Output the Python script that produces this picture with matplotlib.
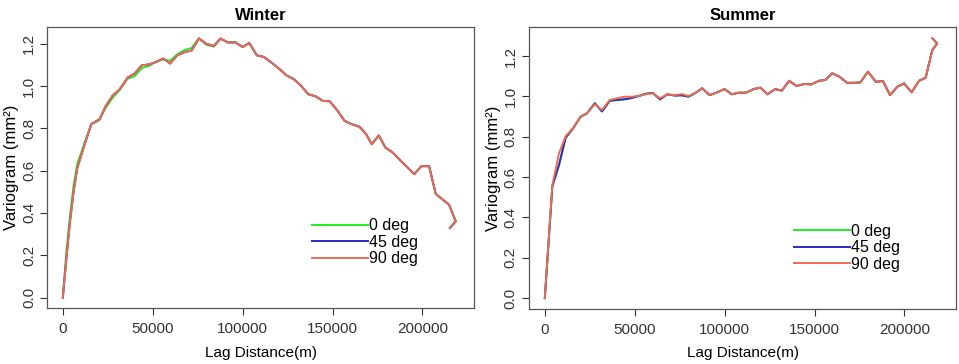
import numpy as np
import matplotlib
matplotlib.use("Agg")
import matplotlib.pyplot as plt

plt.rcParams['font.family'] = ['Liberation Sans', 'DejaVu Sans']

# winter variogram (lag in m, gamma in mm^2)
winter_lag = [0, 2000, 4000, 6000, 8000, 12000, 15850, 20400, 23750, 27800, 31500,
              36100, 39800, 44000, 48000, 51800, 55800, 59700, 63700, 67800, 71700,
              75700, 79700, 84000, 87700, 91700, 96000, 100000, 103700, 107900, 111900,
              116100, 120200, 124400, 128500, 132700, 136500, 140500, 144800, 148400,
              152600, 156700, 160800, 165000, 168700, 171800, 175700, 179400, 183400,
              187500, 191700, 195400, 199400, 203700, 207400, 211000, 214800, 218500, 215300]
winter_90 = [0.0, 0.186, 0.358, 0.50, 0.61, 0.72, 0.82, 0.84, 0.904, 0.956, 0.983,
             1.04, 1.058, 1.098, 1.102, 1.113, 1.13, 1.106, 1.145, 1.16, 1.168,
             1.224, 1.20, 1.189, 1.224, 1.206, 1.206, 1.184, 1.203, 1.145, 1.137,
             1.11, 1.082, 1.05, 1.032, 0.999, 0.961, 0.951, 0.929, 0.928,
             0.885, 0.835, 0.819, 0.807, 0.772, 0.725, 0.766, 0.709, 0.686,
             0.65, 0.615, 0.583, 0.621, 0.621, 0.49, 0.465, 0.439, 0.36, 0.329]
winter_45 = list(winter_90)
winter_0 = [0.0, 0.22, 0.39, 0.53, 0.63, 0.73, 0.82, 0.845, 0.895, 0.945, 0.98,
            1.035, 1.045, 1.085, 1.095, 1.115, 1.125, 1.12, 1.15, 1.17, 1.18,
            1.226, 1.195, 1.186, 1.224, 1.206, 1.206, 1.184, 1.203, 1.145, 1.137,
            1.11, 1.082, 1.05, 1.032, 0.999, 0.961, 0.951, 0.929, 0.928,
            0.885, 0.835, 0.819, 0.807, 0.772, 0.725, 0.766, 0.709, 0.686,
            0.65, 0.615, 0.583, 0.621, 0.621, 0.49, 0.465, 0.439, 0.36, 0.329]

# summer variogram
summer_lag = [0, 4200, 7900, 11600, 15600, 19900, 23500, 27800, 31800, 36100, 40100,
              44200, 48400, 52700, 56400, 60000, 64100, 68100, 72400, 76400, 79800,
              83400, 87500, 91700, 95900, 100000, 104000, 107900, 111900, 116200, 119900,
              123900, 128000, 131800, 135900, 139900, 144200, 148200, 152500, 156100,
              159800, 163900, 168100, 171800, 175500, 179700, 184100, 188000, 192000,
              196100, 199800, 204000, 208100, 211800, 215500, 218200, 215600]
summer_90 = [0.0, 0.561, 0.718, 0.803, 0.841, 0.899, 0.916, 0.962, 0.932, 0.982, 0.99,
             0.998, 0.998, 1.003, 1.011, 1.015, 0.99, 1.01, 1.006, 1.011, 1.001,
             1.015, 1.04, 1.006, 1.02, 1.036, 1.01, 1.018, 1.018, 1.036, 1.043,
             1.01, 1.036, 1.028, 1.077, 1.051, 1.061, 1.059, 1.077, 1.081,
             1.114, 1.097, 1.067, 1.067, 1.069, 1.122, 1.072, 1.076, 1.006,
             1.048, 1.064, 1.02, 1.077, 1.092, 1.229, 1.262, 1.287]
summer_45 = [0.0, 0.555, 0.66, 0.795, 0.84, 0.899, 0.916, 0.966, 0.925, 0.978, 0.982,
             0.985, 0.992, 1.003, 1.013, 1.017, 0.985, 1.01, 1.004, 1.005, 0.998,
             1.015, 1.04, 1.006, 1.02, 1.036, 1.01, 1.018, 1.018, 1.036, 1.043,
             1.01, 1.036, 1.028, 1.077, 1.051, 1.061, 1.059, 1.077, 1.081,
             1.114, 1.097, 1.067, 1.067, 1.069, 1.122, 1.072, 1.076, 1.006,
             1.048, 1.064, 1.02, 1.077, 1.092, 1.229, 1.262, 1.287]
summer_0 = list(summer_45)

labels = ["0 deg", "45 deg", "90 deg"]
colors = ["#22ee22", "#2a2ac8", "#ef6a52"]

fig = plt.figure(figsize=(9.59, 3.64), dpi=100)
ax1 = fig.add_axes([0.049, 0.154, 0.4455, 0.772])
ax2 = fig.add_axes([0.5516, 0.152, 0.4455, 0.773])

panels = [
    (ax1, "Winter", winter_lag, [winter_0, winter_45, winter_90], (-0.049, 1.279), 0.319),
    (ax2, "Summer", summer_lag, [summer_0, summer_45, summer_90], (-0.052, 1.342), 0.302),
]

for ax, title, lag, series, ylim, leg_y in panels:
    for vals, lab, col in zip(series, labels, colors):
        ax.plot(lag, vals, color=col, lw=1.4, label=lab)
    ax.set_xlim(-8800, 228800)
    ax.set_ylim(*ylim)
    ax.set_xticks([0, 50000, 100000, 150000, 200000])
    ax.set_yticks([0.0, 0.2, 0.4, 0.6, 0.8, 1.0, 1.2])
    ax.set_yticklabels(["0.0", "0.2", "0.4", "0.6", "0.8", "1.0", "1.2"],
                       rotation=90, va="center")
    ax.tick_params(direction="out", length=5, width=0.8, colors="#333333",
                   labelsize=11, pad=5)
    ax.tick_params(axis="y", pad=3)
    for sp in ax.spines.values():
        sp.set_color("#555555")
        sp.set_linewidth(0.9)
    ax.set_title(title, fontsize=12, fontweight="bold", pad=5)
    ax.set_xlabel("Lag Distance(m)", fontsize=11, labelpad=7)
    ax.set_ylabel("Variogram (mm²)", fontsize=12, labelpad=2)
    ax.legend(loc="upper left", bbox_to_anchor=(0.62, leg_y), frameon=False,
              fontsize=11.5, handlelength=3.5, handletextpad=0.1, labelspacing=0.1,
              borderpad=0, borderaxespad=0)

fig.savefig("out.png", dpi=100)
